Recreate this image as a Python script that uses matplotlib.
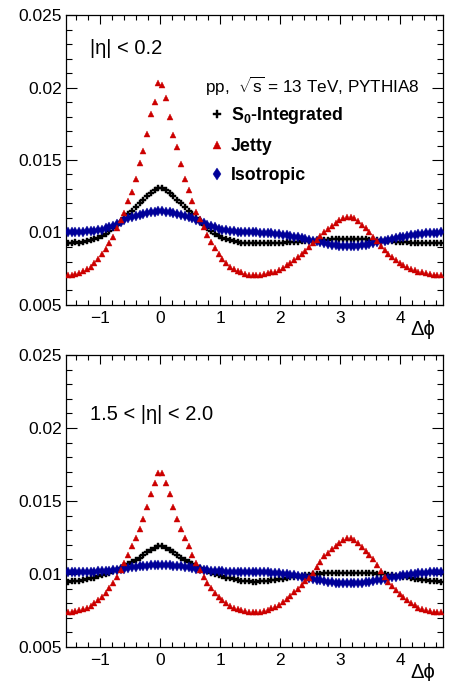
import numpy as np
import matplotlib
matplotlib.use("Agg")
import matplotlib.pyplot as plt

plt.rcParams['font.family'] = ['Liberation Sans', 'DejaVu Sans']
plt.rcParams['mathtext.fontset'] = 'custom'
plt.rcParams['mathtext.rm'] = 'Liberation Sans'
plt.rcParams['mathtext.it'] = 'Liberation Sans:italic'
plt.rcParams['mathtext.bf'] = 'Liberation Sans:bold'

# ---- data (values in units of 1e-4), 100 bins in dphi from -pi/2 to 3pi/2 ----
dphi_edges = np.linspace(-np.pi / 2, 3 * np.pi / 2, 101)

top_s0 = [93, 93, 93.2, 93, 93.5, 94, 94.5, 95.5, 96.5, 97.5, 99, 101, 103, 105, 107.5, 110, 112.5, 115, 117.5, 120, 122.5, 125, 127.5, 129.5, 131,
          131, 129.5, 127.5, 125, 122.5, 120, 117.5, 115, 112.5, 110, 107.5, 105, 103, 101, 99, 97.5, 96.5, 95.5, 94.5, 94, 93.5, 93, 93, 93, 93,
          93, 93, 92.8, 93, 93, 92.8, 93, 93, 93.2, 93.2, 93.4, 93.6, 93.8, 94, 94.2, 94.4, 94.6, 94.8, 95, 95.1, 95.2, 95.3, 95.4, 95.5, 95.5,
          95.5, 95.5, 95.4, 95.3, 95.2, 95, 94.8, 94.6, 94.4, 94.2, 94, 93.8, 93.6, 93.4, 93.2, 93.2, 93, 93, 93, 92.8, 93, 93, 93, 93, 93]
top_jetty = [71, 71, 71.5, 72, 73.5, 74.5, 76, 79, 81.5, 85, 88.5, 93, 97, 103, 108.5, 113.5, 122, 128, 137, 148, 156, 168, 182, 190, 203,
             202, 193, 180, 167, 159, 147, 137, 129, 122, 114, 109, 103.5, 98, 93.5, 89, 85.5, 82, 79, 76.5, 75, 73.5, 72.5, 71.5, 71, 71,
             71, 71, 71.5, 72, 72.5, 73, 74, 75.5, 77.5, 79, 81, 83, 85.5, 87.5, 90, 92.5, 95, 97.5, 100, 102.5, 104.5, 106.5, 108.5, 110, 111,
             111, 110, 108, 105.5, 103, 100, 97, 94, 91, 88, 85.5, 83, 81, 79, 77.5, 76, 75, 74, 73, 72.5, 72, 71.5, 71, 71, 70.5]
top_iso = [100.1, 100.2, 100.3, 100.4, 100.6, 100.8, 101.1, 101.3, 101.5, 102, 102.8, 103.8, 104.8, 106, 107.3, 108.7, 109.7, 110.6, 111.5, 112.3, 113, 113.6, 114, 114.3, 114.5,
           114.5, 114.3, 114, 113.6, 113, 112.3, 111.5, 110.6, 109.7, 108.7, 107.6, 106.5, 105.4, 104.4, 103.5, 102.7, 102, 101.5, 101.1, 100.8, 100.6, 100.4, 100.3, 100.2, 100.1,
           100.0, 99.9, 99.8, 99.6, 99.4, 99.1, 98.8, 98.5, 98.1, 97.7, 97.2, 96.7, 96.2, 95.6, 95.0, 94.4, 93.8, 93.2, 92.6, 92.1, 91.6, 91.2, 90.9, 90.7, 90.6,
           90.6, 90.7, 90.9, 91.2, 91.6, 92.1, 92.6, 93.2, 93.8, 94.4, 95.0, 95.6, 96.2, 96.7, 97.2, 97.7, 98.1, 98.5, 98.8, 99.1, 99.4, 99.6, 99.8, 99.9, 100.0]

bot_s0 = [94.8, 95, 95.2, 95.5, 95.9, 96.4, 97, 97.6, 98.3, 99.1, 100, 100.9, 101.9, 103, 104.2, 105.5, 106.8, 108.2, 109.7, 111.3, 113, 114.8, 116.5, 118, 119,
          119, 118, 116.5, 114.8, 113, 111.3, 109.7, 108.2, 106.8, 105.5, 104.2, 103, 101.9, 100.9, 100, 99.1, 98.3, 97.6, 97, 96.4, 95.9, 95.5, 95.2, 95, 94.8,
          94.8, 95, 95.2, 95.5, 95.8, 96.1, 96.5, 96.9, 97.3, 97.7, 98.1, 98.5, 98.9, 99.2, 99.5, 99.8, 100, 100.2, 100.4, 100.5, 100.6, 100.7, 100.8, 100.9, 100.9,
          100.9, 100.9, 100.8, 100.7, 100.6, 100.5, 100.4, 100.2, 100, 99.8, 99.5, 99.2, 98.9, 98.5, 98.1, 97.7, 97.3, 96.9, 96.5, 96.1, 95.8, 95.5, 95.2, 95, 94.8]
bot_jetty = [74.2, 74.3, 74.7, 75.3, 75.8, 76.8, 78, 79.8, 82, 84.5, 87, 90.3, 94, 98, 102.5, 107.5, 113, 119, 124.5, 131, 138, 146, 154.5, 162.5, 169,
             169.5, 162.5, 155, 146, 138, 131, 124.5, 119, 113, 107.5, 102.5, 98, 94, 90.3, 87, 84.5, 82, 79.8, 78, 76.8, 75.8, 75.2, 74.7, 74.3, 74.1,
             73.8, 74, 74.5, 75.5, 76.5, 77.5, 79, 81, 83, 85, 87.5, 90, 92.5, 95, 97.5, 100.5, 104.5, 108.5, 112, 114.5, 117, 119.5, 121.5, 123.5, 124.5,
             124.5, 123, 121, 118.5, 116, 113, 110, 106, 102, 98, 94.5, 91.5, 89, 86.5, 84, 82, 80, 78.5, 77, 76, 75.2, 74.6, 74.2, 74, 73.8]
bot_iso = [101.6, 101.6, 101.7, 101.7, 101.7, 101.7, 101.7, 101.7, 101.8, 101.9, 102.1, 102.3, 102.6, 102.9, 103.3, 103.7, 104.1, 104.5, 104.9, 105.2, 105.5, 105.8, 106, 106.1, 106.2,
           106.2, 106.1, 106, 105.8, 105.5, 105.2, 104.9, 104.5, 104.1, 103.7, 103.3, 102.9, 102.6, 102.3, 102.1, 101.9, 101.8, 101.7, 101.7, 101.7, 101.7, 101.7, 101.7, 101.6, 101.6,
           101.6, 101.5, 101.4, 101.2, 101.0, 100.8, 100.5, 100.2, 99.9, 99.5, 99.1, 98.7, 98.2, 97.7, 97.2, 96.7, 96.2, 95.7, 95.2, 94.8, 94.4, 94.1, 93.8, 93.6, 93.5,
           93.5, 93.6, 93.8, 94.1, 94.4, 94.8, 95.2, 95.7, 96.2, 96.7, 97.2, 97.7, 98.2, 98.7, 99.1, 99.5, 99.9, 100.2, 100.5, 100.8, 101.0, 101.2, 101.4, 101.5, 101.6]

series_labels = [r'$\mathbf{S_0}$-Integrated', 'Jetty', 'Isotropic']
panel_labels = [u'|\u03b7| < 0.2', u'1.5 < |\u03b7| < 2.0']
energy_label = r'pp,  $\sqrt{\mathrm{s}}$ = 13 TeV, PYTHIA8'
x_ticks = [-1, 0, 1, 2, 3, 4]
x_ticklabels = [u'\u22121', '0', '1', '2', '3', '4']
y_ticks = [0.005, 0.01, 0.015, 0.02, 0.025]
y_ticklabels = ['0.005', '0.01', '0.015', '0.02', '0.025']

# ---- plotting ----
centers = 0.5 * (dphi_edges[:-1] + dphi_edges[1:])
scale = 1e-4
RED = '#cc0000'
BLUE = '#000099'

W, H = 452, 681
fig = plt.figure(figsize=(W / 100, H / 100), dpi=100)
ax_top = fig.add_axes([66 / W, 1 - 305 / H, 377 / W, 290 / H])
ax_bot = fig.add_axes([66 / W, 1 - 647 / H, 377 / W, 292 / H])

panels = [(ax_top, top_s0, top_jetty, top_iso, panel_labels[0], 0.886),
          (ax_bot, bot_s0, bot_jetty, bot_iso, panel_labels[1], 0.795)]

for i, (ax, s0, jet, iso, plab, ly) in enumerate(panels):
    h_s0, = ax.plot(centers, np.array(s0) * scale, ls='none', marker='P', ms=4.4,
                    color='black', mec='black', mew=0.3, zorder=3)
    h_iso, = ax.plot(centers, np.array(iso) * scale, ls='none', marker='d', ms=5.2,
                     color=BLUE, mec=BLUE, mew=0.3, zorder=4)
    h_jet, = ax.plot(centers, np.array(jet) * scale, ls='none', marker='^', ms=5.0,
                     color=RED, mec=RED, mew=0.3, zorder=5)
    ax.set_xlim(-np.pi / 2, 3 * np.pi / 2)
    ax.set_ylim(0.005, 0.025)
    ax.set_xticks(x_ticks)
    ax.set_xticklabels(x_ticklabels)
    ax.set_yticks(y_ticks)
    ax.set_yticklabels(y_ticklabels)
    ax.set_xticks(np.arange(-1.4, 4.75, 0.2), minor=True)
    ax.set_yticks(np.arange(0.005, 0.02501, 0.001), minor=True)
    ax.tick_params(axis='both', which='both', direction='in', top=True, right=True,
                   width=0.8, labelsize=12.5)
    ax.tick_params(axis='y', which='major', length=8, pad=3)
    ax.tick_params(axis='y', which='minor', length=4.3)
    ax.tick_params(axis='x', which='major', length=6.5, pad=4)
    ax.tick_params(axis='x', which='minor', length=3.3)
    for sp in ax.spines.values():
        sp.set_linewidth(0.9)
    ax.text(0.064, ly, plab, transform=ax.transAxes,
            fontsize=14.5, ha='left', va='center')
    ax.text(1 - 8 / 377, -25 / 290, u'\u0394\u03d5', transform=ax.transAxes,
            fontsize=14.5, ha='right', va='center')
    if i == 0:
        ax.text(0.369, 0.752, energy_label, transform=ax.transAxes,
                fontsize=12.3, ha='left', va='center')
        ax.legend([h_s0, h_jet, h_iso], series_labels, loc='upper left',
                  bbox_to_anchor=(0.383, 0.688), frameon=False, borderpad=0,
                  borderaxespad=0, handlelength=0.75, handletextpad=0.42,
                  labelspacing=0.66, prop={'weight': 'bold', 'size': 12.8},
                  markerscale=1.15)

fig.savefig('out.png', dpi=100)
